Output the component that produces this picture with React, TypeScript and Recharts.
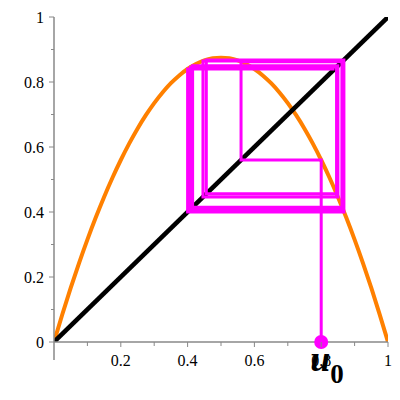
import {
	LineChart,
	Line,
	XAxis,
	YAxis,
	ReferenceLine,
	ReferenceDot,
} from "recharts";

// logistic curve
const curveX = [
	0, 0.025, 0.05, 0.075, 0.1, 0.125, 0.15, 0.175, 0.2, 0.225, 0.25, 0.275, 0.3,
	0.325, 0.35, 0.375, 0.4, 0.425, 0.45, 0.475, 0.5, 0.525, 0.55, 0.575, 0.6,
	0.625, 0.65, 0.675, 0.7, 0.725, 0.75, 0.775, 0.8, 0.825, 0.85, 0.875, 0.9,
	0.925, 0.95, 0.975, 1,
];
const curveY = [
	0, 0.0853, 0.1663, 0.2428, 0.315, 0.3828, 0.4463, 0.5053, 0.56, 0.6103,
	0.6563, 0.6978, 0.735, 0.7678, 0.7963, 0.8203, 0.84, 0.8553, 0.8663, 0.8728,
	0.875, 0.8728, 0.8663, 0.8553, 0.84, 0.8203, 0.7963, 0.7678, 0.735, 0.6978,
	0.6563, 0.6103, 0.56, 0.5053, 0.4463, 0.3828, 0.315, 0.2428, 0.1663, 0.0853,
	0,
];

const diagX = [0, 1];
const diagY = [0, 1];

const u0 = 0.8;
const iterates = [
	0.56, 0.862, 0.415, 0.85, 0.446, 0.865, 0.409, 0.846, 0.456, 0.868, 0.4,
	0.84,
];

const xTicks = [0.1, 0.2, 0.3, 0.4, 0.5, 0.6, 0.7, 0.8, 0.9, 1];
const yTicks = [0, 0.1, 0.2, 0.3, 0.4, 0.5, 0.6, 0.7, 0.8, 0.9, 1];

const curveData = curveX.map((x, i) => ({ x, y: curveY[i] }));
const diagData = diagX.map((x, i) => ({ x, y: diagY[i] }));

// cobweb: up to the curve, across to the diagonal, repeat
const webData: { x: number; y: number }[] = [{ x: u0, y: 0 }];
let prev = u0;
iterates.forEach((v) => {
	webData.push({ x: prev, y: v });
	webData.push({ x: v, y: v });
	prev = v;
});

const axisColor = "#888";
const labelFont = "'Liberation Serif', 'Times New Roman', serif";

const isMajor = (v: number) => Math.round(v * 10) % 2 === 0;
const fmt = (v: number) => (v === 0 || v === 1 ? String(v) : v.toFixed(1));

const YTick = ({ x, y, payload }: any) => {
	const v = payload.value;
	const major = isMajor(v);
	return (
		<g>
			<line x1={x - (major ? 5 : 3)} x2={x} y1={y} y2={y} stroke={axisColor} />
			{major && (
				<text
					x={x - 10}
					y={y}
					dy={5.5}
					textAnchor="end"
					fontFamily={labelFont}
					fontSize={16}
					fill="#000"
				>
					{fmt(v)}
				</text>
			)}
		</g>
	);
};

const XTick = ({ x, y, payload }: any) => {
	const v = payload.value;
	const major = isMajor(v);
	return (
		<g>
			<line x1={x} x2={x} y1={y} y2={y + (major ? 5 : 4)} stroke={axisColor} />
			{major && (
				<text
					x={x}
					y={y + 24}
					textAnchor="middle"
					fontFamily={labelFont}
					fontSize={16}
					fill="#000"
				>
					{fmt(v)}
				</text>
			)}
		</g>
	);
};

const StartDot = (props: any) => {
	const { cx, cy } = props;
	return (
		<g>
			<circle cx={cx} cy={cy} r={7} fill="#ff00ff" />
			<text
				x={cx - 11}
				y={cy + 29}
				fontFamily={labelFont}
				fontWeight="bold"
				fontStyle="italic"
				fontSize={36}
				fill="#000"
			>
				u
			</text>
			<text
				x={cx + 9}
				y={cy + 41}
				fontFamily={labelFont}
				fontWeight="bold"
				fontSize={27}
				fill="#000"
			>
				0
			</text>
		</g>
	);
};

export default function App() {
	return (
		<div style={{ position: "absolute", left: 0, top: 0 }}>
			<LineChart
				width={400}
				height={400}
				margin={{ top: 17, right: 12, left: 10, bottom: 28 }}
			>
				<XAxis
					dataKey="x"
					type="number"
					domain={[0, 1]}
					ticks={xTicks}
					allowDataOverflow
					height={30}
					stroke={axisColor}
					strokeWidth={1.5}
					tickLine={false}
					tickSize={0}
					tickMargin={0}
					tick={<XTick />}
					interval={0}
				/>
				<YAxis
					dataKey="y"
					type="number"
					domain={[0, 1]}
					ticks={yTicks}
					allowDataOverflow
					width={44}
					stroke={axisColor}
					strokeWidth={1.5}
					tickLine={false}
					tickSize={0}
					tickMargin={0}
					tick={<YTick />}
					interval={0}
				/>
				<ReferenceLine
					segment={[
						{ x: 0, y: 0 },
						{ x: 0, y: -0.055 },
					]}
					stroke={axisColor}
					strokeWidth={1.5}
					ifOverflow="visible"
				/>
				<Line
					data={curveData}
					dataKey="y"
					type="monotone"
					stroke="#ff8000"
					strokeWidth={4}
					dot={false}
					isAnimationActive={false}
				/>
				<Line
					data={diagData}
					dataKey="y"
					type="linear"
					stroke="#000"
					strokeWidth={4.5}
					dot={false}
					isAnimationActive={false}
				/>
				<Line
					data={webData}
					dataKey="y"
					type="linear"
					stroke="#ff00ff"
					strokeWidth={3}
					dot={false}
					isAnimationActive={false}
				/>
				<ReferenceDot
					x={u0}
					y={0}
					r={7}
					ifOverflow="visible"
					shape={<StartDot />}
				/>
			</LineChart>
		</div>
	);
}
